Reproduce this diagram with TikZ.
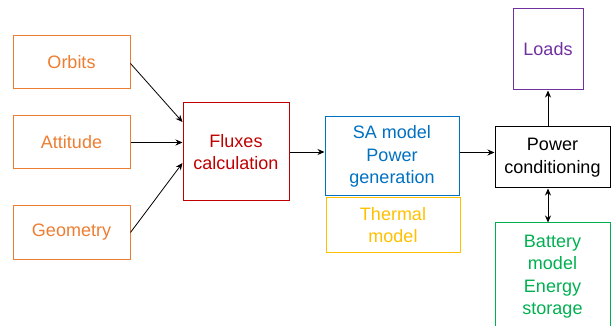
\documentclass[tikz,border=0pt]{standalone}
\usepackage{fontspec}
\setmainfont{Liberation Sans}
\usetikzlibrary{arrows.meta}
\definecolor{orangebox}{HTML}{ED7D31}
\definecolor{redbox}{HTML}{C00000}
\definecolor{bluebox}{HTML}{0070C0}
\definecolor{yellowbox}{HTML}{FFC000}
\definecolor{purplebox}{HTML}{7030A0}
\definecolor{greenbox}{HTML}{00B050}
\tikzset{
  blk/.style={draw=#1, text=#1, line width=1pt, align=center, inner sep=0pt,
    font=\fontsize{18}{22.5}\selectfont},
  conn/.style={-{Stealth[length=7pt,width=6pt]}, line width=0.8pt}
}
\begin{document}
\begin{tikzpicture}[x=1pt,y=-1pt]
	\useasboundingbox (0,0) rectangle (611,326);
	% inputs
	\node[blk=orangebox, minimum width=117pt, minimum height=53pt] (orbits) at (71.5,62.5) {Orbits};
	\node[blk=orangebox, minimum width=117pt, minimum height=53pt] (attitude) at (71.5,142.5) {Attitude};
	\node[blk=orangebox, minimum width=117pt, minimum height=53pt] (geometry) at (71.5,232.5) {Geometry};
	\node[blk=redbox, minimum width=106pt, minimum height=98pt] (fluxes) at (236,152) {Fluxes\\calculation};
	% models
	\node[blk=bluebox, minimum width=134pt, minimum height=79pt] (sa) at (392,156.5) {SA model\\Power\\generation};
	\node[blk=yellowbox, minimum width=134pt, minimum height=54pt] (thermal) at (393,225) {Thermal\\model};
	\node[blk=black, minimum width=115pt, minimum height=61pt] (power) at (552.5,157.5) {Power\\conditioning};
	\node[blk=purplebox, minimum width=70pt, minimum height=81pt] (loads) at (548,49.5) {Loads};
	\node[blk=greenbox, minimum width=115pt, minimum height=107pt] (battery) at (552.5,276.5) {Battery\\model\\Energy\\storage};
	% connectors
	\draw[conn] ([yshift=-1pt]orbits.east) -- ([yshift=30pt]fluxes.west);
	\draw[conn] (attitude.east) -- (attitude.east -| fluxes.west);
	\draw[conn] (geometry.east) -- ([yshift=-11pt]fluxes.west);
	\draw[conn] (fluxes.east) -- (fluxes.east -| sa.west);
	\draw[conn] ([yshift=4pt]sa.east) -- ([yshift=4pt]sa.east -| power.west);
	\draw[conn] (power.north -| loads) -- (loads.south);
	\draw[conn, {Stealth[length=7pt,width=6pt]}-{Stealth[length=7pt,width=6pt]}] (power.south -| loads) -- (battery.north -| loads);
\end{tikzpicture}
\end{document}
